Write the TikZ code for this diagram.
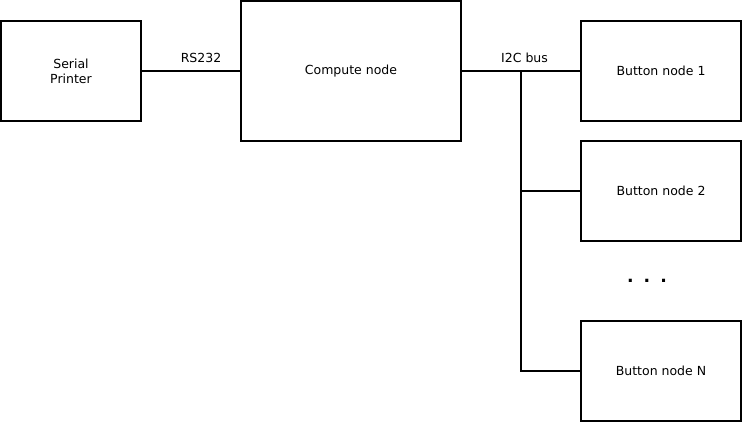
\documentclass[tikz,border=0pt]{standalone}
\usepackage{fontspec}
\setmainfont{DejaVu Sans}
\usepackage{tikz}
\usetikzlibrary{positioning, calc}

\begin{document}
\begin{tikzpicture}[
    x=1pt, y=-1pt,
    font=\fontsize{12.5}{15}\selectfont,
    % Box styles
    block/.style={rectangle, draw=black, line width=1.4pt, minimum width=140pt, minimum height=100pt, align=center, inner sep=0pt},
    bigblock/.style={block, minimum width=220pt, minimum height=140pt},
    btnblock/.style={block, minimum width=160pt},
    line/.style={line width=1.4pt}
    ]
    \useasboundingbox (0,0) rectangle (742,422);

    % --- nodes ---
    \node[block] (printer) at (71,71) {Serial\\Printer};
    \node[bigblock] (compute) at (351,71) {Compute node};
    \node[btnblock] (btn1) at (661,71) {Button node 1};
    \node[btnblock] (btn2) at (661,191) {Button node 2};
    \node[btnblock] (btnN) at (661,371) {Button node N};
    \node[font=\LARGE\bfseries] (dots) at (647,281) {.\hspace{10pt}.\hspace{10pt}.};

    % --- links ---
    \draw[line] (printer) -- node[above=4pt, xshift=10pt] {RS232} (compute);
    \draw[line] (compute) -- node[above=4pt, pos=0.53] {I2C bus} (btn1);

    % bus tap
    \coordinate (tap) at ($(compute.east)!0.5!(btn1.west)$);
    \draw[line] (tap) |- (btn2.west);
    \draw[line] (tap) |- (btnN.west);

\end{tikzpicture}
\end{document}
